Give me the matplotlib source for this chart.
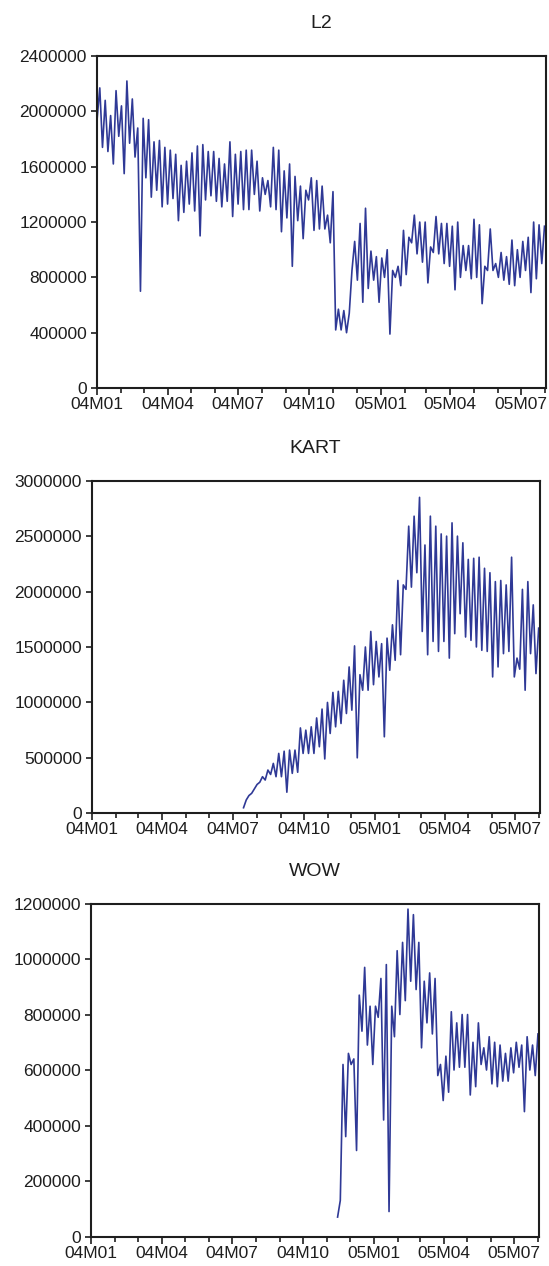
import numpy as np
import pandas as pd
import matplotlib
matplotlib.use("Agg")
import matplotlib.pyplot as plt
import matplotlib.dates as mdates
from matplotlib.ticker import FuncFormatter, MultipleLocator

plt.rcParams["font.family"] = ["Liberation Sans", "DejaVu Sans"]

# weekly readings (millions): one trough and one peak per week,
# weeks counted from 2004-01-01
N_WEEKS = 83
weeks = pd.date_range("2004-01-01", periods=N_WEEKS, freq="7D")

l2_low = [1.94, 1.74, 1.71, 1.62, 1.82, 1.55, 1.77, 1.67, 0.70, 1.52,
          1.38, 1.43, 1.31, 1.33, 1.37, 1.21, 1.27, 1.33, 1.28, 1.10,
          1.36, 1.39, 1.35, 1.31, 1.35, 1.24, 1.33, 1.29, 1.29, 1.40,
          1.28, 1.40, 1.31, 1.29, 1.13, 1.23, 0.88, 1.21, 1.08, 1.36,
          1.14, 1.15, 1.15, 1.05, 0.42, 0.42, 0.40, 0.85, 0.78, 0.62,
          0.72, 0.78, 0.62, 0.80, 0.39, 0.80, 0.74, 0.82, 1.05, 0.97,
          0.91, 0.76, 0.98, 0.97, 0.90, 0.88, 0.71, 0.80, 0.85, 0.79,
          0.80, 0.61, 0.85, 0.85, 0.80, 0.78, 0.75, 0.74, 0.80, 0.85,
          0.69, 0.79, 0.90]
l2_high = [2.17, 2.08, 1.97, 2.15, 2.04, 2.22, 2.09, 1.88, 1.95, 1.94,
           1.78, 1.79, 1.74, 1.72, 1.69, 1.61, 1.64, 1.70, 1.75, 1.76,
           1.71, 1.71, 1.66, 1.62, 1.78, 1.69, 1.71, 1.72, 1.72, 1.64,
           1.52, 1.50, 1.74, 1.72, 1.57, 1.62, 1.53, 1.46, 1.43, 1.52,
           1.50, 1.46, 1.25, 1.42, 0.57, 0.56, 0.54, 1.06, 1.19, 1.30,
           0.99, 0.95, 0.94, 1.00, 0.85, 0.88, 1.14, 1.09, 1.25, 1.20,
           1.20, 1.02, 1.24, 1.19, 1.19, 1.17, 1.20, 1.03, 1.03, 1.22,
           1.18, 0.88, 1.15, 0.90, 0.98, 0.95, 1.07, 1.00, 1.06, 1.09,
           1.20, 1.18, 1.17]

kart_first = 28
kart_low = [0.05, 0.16, 0.22, 0.28, 0.30, 0.35, 0.33, 0.33, 0.19, 0.36,
            0.37, 0.54, 0.54, 0.54, 0.60, 0.49, 0.72, 0.78, 0.81, 0.90,
            0.93, 0.50, 1.11, 1.11, 1.16, 1.23, 0.69, 1.29, 1.38, 1.43,
            2.02, 2.04, 2.17, 1.64, 1.43, 1.55, 1.46, 1.55, 1.40, 1.62,
            1.80, 1.59, 1.56, 1.50, 1.47, 1.46, 1.23, 1.32, 1.44, 1.46,
            1.23, 1.30, 1.11, 1.44, 1.26]
kart_high = [0.12, 0.18, 0.26, 0.33, 0.39, 0.45, 0.54, 0.56, 0.57, 0.57,
             0.77, 0.75, 0.78, 0.86, 0.94, 1.00, 1.09, 1.10, 1.20, 1.32,
             1.51, 1.25, 1.50, 1.64, 1.55, 1.53, 1.58, 1.70, 2.10, 2.06,
             2.59, 2.68, 2.85, 2.42, 2.68, 2.59, 2.52, 2.50, 2.62, 2.50,
             2.44, 2.29, 2.30, 2.31, 2.21, 2.17, 2.09, 2.10, 2.06, 2.31,
             1.40, 2.02, 2.09, 1.88, 1.67]

wow_first = 45
wow_low = [np.nan, 0.13, 0.36, 0.62, 0.31, 0.74, 0.69, 0.62, 0.79, 0.42,
           0.09, 0.72, 0.80, 0.85, 0.92, 0.89, 0.68, 0.77, 0.73, 0.58,
           0.49, 0.52, 0.60, 0.61, 0.61, 0.51, 0.54, 0.62, 0.60, 0.55,
           0.54, 0.56, 0.56, 0.59, 0.61, 0.45, 0.60, 0.58]
wow_high = [0.07, 0.62, 0.66, 0.64, 0.87, 0.97, 0.83, 0.83, 0.93, 0.98,
            0.83, 1.03, 1.06, 1.18, 1.16, 1.06, 0.92, 0.95, 0.93, 0.62,
            0.65, 0.81, 0.77, 0.80, 0.80, 0.70, 0.77, 0.68, 0.72, 0.70,
            0.69, 0.66, 0.68, 0.70, 0.69, 0.72, 0.69, 0.73]

LINE = "#2f3996"
INK = "#1e1e1e"


def zigzag(lows, highs, first=0):
    """Interleave weekly troughs/peaks into one dated series."""
    lo = np.full(N_WEEKS, np.nan)
    hi = np.full(N_WEEKS, np.nan)
    lo[first:] = lows
    hi[first:] = highs
    x = np.empty(2 * N_WEEKS, dtype="datetime64[ns]")
    x[0::2] = weeks.values
    x[1::2] = (weeks + pd.Timedelta(hours=84)).values
    y = np.empty(2 * N_WEEKS)
    y[0::2] = lo
    y[1::2] = hi
    return x, y * 1e6


panels = [
    ("L2", zigzag(l2_low, l2_high), 2400000, 400000,
     [0.1761, 0.6935, 0.8178, 0.2622]),
    ("KART", zigzag(kart_low, kart_high, kart_first), 3000000, 500000,
     [0.1667, 0.3576, 0.8166, 0.2627]),
    ("WOW", zigzag(wow_low, wow_high, wow_first), 1200000, 200000,
     [0.1654, 0.0233, 0.8166, 0.2630]),
]

fig = plt.figure(figsize=(5.49, 12.66), dpi=100)

for title, (x, y), ymax, ystep, rect in panels:
    ax = fig.add_axes(rect)
    ax.plot(x, y, color=LINE, linewidth=1.2)
    ax.set_xlim(pd.Timestamp("2003-12-31 12:00"), pd.Timestamp("2005-08-02"))
    ax.set_ylim(0, ymax)
    ax.yaxis.set_major_locator(MultipleLocator(ystep))
    ax.yaxis.set_major_formatter(FuncFormatter(lambda v, p: f"{int(round(v))}"))
    ax.xaxis.set_major_locator(mdates.MonthLocator(bymonth=[1, 4, 7, 10]))
    ax.xaxis.set_minor_locator(mdates.MonthLocator())
    ax.xaxis.set_major_formatter(mdates.DateFormatter("%yM%m"))
    for s in ax.spines.values():
        s.set_linewidth(1.5)
        s.set_color(INK)
    ax.tick_params(axis="both", which="both", direction="out", width=1.2,
                   colors=INK, labelsize=12.5)
    ax.tick_params(axis="x", which="major", length=5, pad=1.5)
    ax.tick_params(axis="x", which="minor", length=3.5)
    ax.tick_params(axis="y", length=4.5, pad=2.5)
    ax.set_title(title, fontsize=14, color=INK, pad=20)

fig.savefig("out.png", dpi=100)
